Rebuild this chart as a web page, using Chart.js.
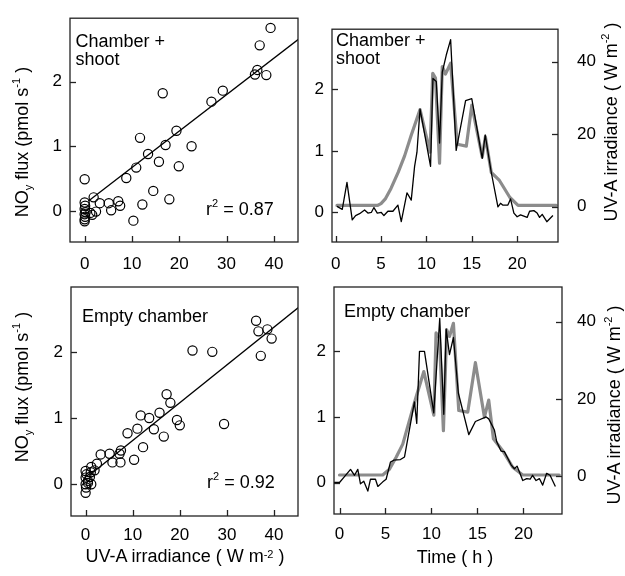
<!DOCTYPE html>
<html>
<head>
<meta charset="utf-8">
<script src="https://cdn.jsdelivr.net/npm/chart.js@4.4.0/dist/chart.umd.min.js"></script>
<style>
  body { margin: 0; background: #fff; }
  #wrap { position: relative; width: 625px; height: 576px; font-family: "Liberation Sans", Arial, sans-serif; color: #000; }
  canvas { position: absolute; left: 0; top: 0; }
  .txt { position: absolute; font-size: 18px; line-height: 18px; white-space: nowrap; z-index: 2; }
  .rot { transform: translate(-50%, -50%) rotate(-90deg); }
  .ctr { transform: translateX(-50%); }
  .sup { font-size: 11px; position: relative; top: -8px; }
  .sub { font-size: 11px; position: relative; top: 4px; }
</style>
</head>
<body>
<div id="wrap">
  <canvas id="tl" width="625" height="576"></canvas>
  <canvas id="tr" width="625" height="576"></canvas>
  <canvas id="bl" width="625" height="576"></canvas>
  <canvas id="br" width="625" height="576"></canvas>

  <div class="txt" style="left:75.5px; top:31.5px">Chamber +<br>shoot</div>
  <div class="txt" style="left:206px; top:200px">r<span class="sup">2</span> = 0.87</div>
  <div class="txt" style="left:336px; top:31px">Chamber +<br>shoot</div>
  <div class="txt" style="left:82px; top:306.5px">Empty chamber</div>
  <div class="txt" style="left:207px; top:473px">r<span class="sup">2</span> = 0.92</div>
  <div class="txt" style="left:344px; top:301.5px">Empty chamber</div>

  <div class="txt rot" style="left:23px; top:142px">NO<span class="sub">y</span> flux (pmol s<span class="sup">-1</span> )</div>
  <div class="txt rot" style="left:23px; top:387px">NO<span class="sub">y</span> flux (pmol s<span class="sup">-1</span> )</div>
  <div class="txt rot" style="left:612px; top:122px">UV-A irradiance ( W m<span class="sup">-2</span> )</div>
  <div class="txt rot" style="left:615px; top:405px">UV-A irradiance ( W m<span class="sup">-2</span> )</div>
  <div class="txt ctr" style="left:185px; top:547px">UV-A irradiance ( W m<span class="sup" style="top:-4px">-2</span> )</div>
  <div class="txt ctr" style="left:455px; top:548px">Time ( h )</div>
</div>

<script>
// ! scatter: chamber + shoot (UV-A vs NOy flux)
const shootUv = [0, 0, 0.1, 0, 0.2, 0, 0.1, 0, 0, 1.2, 1.6, 1.9, 2.4, 3.2, 5.1, 5.6, 7.1, 7.5, 8.8, 10.3, 10.9, 11.7, 12.2, 13.4, 14.5, 15.7, 16.5, 17.1, 17.9, 19.4, 19.9, 22.6, 26.8, 29.2, 36.0, 36.5, 37.0, 38.4, 39.3];
const shootFlux = [0.49, 0.13, 0.08, 0.03, -0.02, -0.05, -0.09, -0.13, -0.16, -0.03, -0.06, 0.21, -0.01, 0.12, 0.12, 0.01, 0.15, 0.08, 0.51, -0.15, 0.67, 1.13, 0.1, 0.88, 0.31, 0.76, 1.82, 1.02, 0.18, 1.24, 0.69, 1.0, 1.69, 1.86, 2.11, 2.18, 2.56, 2.1, 2.83];
const shootFit = { slope: 0.0563, intercept: 0.11, from: 0.8, to: 45.5 };

// ! scatter: empty chamber
const emptyUv = [0, 0.2, 0, 0.5, 0, 0.1, 0, 0.5, 0.9, 1.2, 1.1, 1.2, 1.9, 2.4, 3.2, 5.1, 5.7, 7.2, 7.5, 7.4, 8.9, 10.3, 11.0, 11.7, 12.2, 13.5, 14.5, 15.7, 16.6, 17.2, 18.0, 19.4, 20.0, 22.7, 26.9, 29.4, 36.2, 36.7, 37.2, 38.6, 39.5];
const emptyFlux = [0.2, 0.15, 0.1, 0.05, 0.0, -0.05, -0.13, 0.02, 0.11, 0.0, 0.18, 0.26, 0.21, 0.31, 0.45, 0.46, 0.33, 0.46, 0.51, 0.33, 0.77, 0.37, 0.84, 1.04, 0.56, 1.0, 0.83, 1.08, 0.72, 1.36, 1.23, 0.97, 0.89, 2.02, 2.0, 0.91, 2.47, 2.31, 1.94, 2.34, 2.2];
const emptyFit = { slope: 0.0571, intercept: 0.09, from: 0.8, to: 45.5 };

// ! time series: chamber + shoot
const shootTime = [0.15, 0.73, 1.25, 1.83, 2.2, 2.64, 3.19, 3.56, 3.93, 4.22, 4.59, 5.03, 5.32, 5.76, 6.31, 6.86, 7.23, 7.86, 8.33, 8.7, 8.96, 9.3, 10.46, 10.72, 11.09, 11.45, 11.75, 12.19, 12.67, 13.28, 14.32, 15.0, 16.15, 16.48, 17.15, 17.88, 18.17, 18.4, 18.98, 19.27, 19.64, 20.0, 20.37, 20.74, 21.1, 21.37, 21.84, 22.2, 22.47, 22.76, 23.27, 23.94];
const shootFluxT = [0.1, 0.05, 0.49, -0.12, -0.05, -0.02, 0.04, -0.01, 0.0, 0.08, -0.01, 0.0, -0.05, 0.02, 0.02, 0.12, -0.15, 0.32, 0.2, 0.75, 0.98, 1.68, 0.75, 2.18, 2.13, 1.13, 2.28, 2.56, 2.81, 1.01, 1.82, 1.85, 0.88, 1.26, 0.65, 0.09, 0.15, 0.12, 0.12, 0.22, -0.01, -0.07, -0.04, -0.06, -0.08, 0.02, 0.03, -0.01, -0.08, -0.03, -0.15, -0.05];
const shootUvTime = [0.15, 4.6, 5.0, 5.5, 6.1, 6.9, 7.6, 8.3, 9.3, 10.4, 10.7, 11.0, 11.45, 11.75, 12.1, 12.67, 13.4, 14.4, 15.0, 16.15, 16.5, 17.15, 18.05, 19.2, 20.1, 24.3];
const shootUvT = [0.3, 0.3, 0.8, 2.2, 5, 9.5, 14, 19.5, 26.8, 15, 36.8, 35.5, 12, 38.7, 36.6, 39.6, 17.2, 16.7, 28, 13.7, 19.3, 9.4, 7.2, 2.5, 0.3, 0.3];

// ! time series: empty chamber
const emptyTime = [-0.6, 0, 0.54, 1.2, 1.63, 1.99, 2.28, 2.64, 3.08, 3.37, 3.91, 4.17, 4.71, 5.07, 5.54, 5.9, 6.63, 7.07, 7.79, 8.15, 8.4, 8.7, 9.24, 10.25, 10.9, 11.34, 11.6, 11.96, 12.39, 12.93, 14.06, 14.78, 15.95, 16.23, 16.85, 17.1, 17.57, 17.93, 18.3, 18.66, 19.02, 19.31, 19.57, 19.93, 20.36, 20.73, 21.0, 21.38, 21.74, 22.1, 22.53, 22.9, 23.48];
const emptyFluxT = [0, 0, 0.09, 0.2, 0.11, 0.2, -0.02, 0.02, -0.13, 0.05, 0.05, -0.06, 0.01, 0.05, 0.31, 0.34, 0.35, 0.39, 0.95, 1.23, 0.9, 2.0, 2.0, 1.06, 2.5, 1.04, 2.34, 1.95, 2.21, 1.36, 0.73, 0.93, 1.0, 0.97, 0.8, 0.62, 0.48, 0.47, 0.37, 0.27, 0.21, 0.25, 0.16, 0.03, 0.06, 0.05, 0.11, 0.03, 0.06, -0.04, 0.14, 0.11, -0.06];
const emptyUvTime = [0, 4.7, 5.43, 6.16, 6.88, 7.6, 8.33, 9.17, 10.26, 10.5, 10.87, 11.3, 11.66, 11.96, 12.39, 12.97, 13.95, 14.78, 15.76, 16.23, 16.74, 17.75, 18.84, 19.93, 23.9];
const emptyUvT = [0.3, 0.3, 1.8, 4.9, 8.3, 14.4, 20.5, 27.1, 15.8, 37.1, 35.8, 11.8, 37.9, 36.2, 39.6, 17, 16.6, 29.4, 15.3, 19.7, 9.7, 6.6, 2.3, 0.3, 0.3];

// tick labels
const fluxTicks = [0, 1, 2];
const uvAxisTicks = [0, 10, 20, 30, 40];
const uvRightTicks = [0, 20, 40];
const timeTicks = [0, 5, 10, 15, 20];

Chart.defaults.font.family = "'Liberation Sans', Arial, sans-serif";
Chart.defaults.font.size = 17;
Chart.defaults.color = "#000";

const W = 625;
const H = 576;

function points(xs, ys) {
  return xs.map((x, i) => ({ x: x, y: ys[i] }));
}

function fitLine(f) {
  return [
    { x: f.from, y: f.intercept + f.slope * f.from },
    { x: f.to, y: f.intercept + f.slope * f.to },
  ];
}

// ! box round the plot and inward tick marks like R
const boxPlugin = {
  id: "box",
  afterDatasetsDraw(chart) {
    const { ctx, chartArea: a } = chart;
    ctx.save();
    ctx.strokeStyle = "#222";
    ctx.lineWidth = 1.3;
    ctx.strokeRect(a.left, a.top, a.right - a.left, a.bottom - a.top);
    Object.values(chart.scales).forEach((s) => {
      s.ticks.forEach((t) => {
        const p = Math.round(s.getPixelForValue(t.value)) + 0.5;
        ctx.beginPath();
        if (s.axis === "x") {
          ctx.moveTo(p, a.bottom);
          ctx.lineTo(p, a.bottom - 6);
        } else if (s.position === "left") {
          ctx.moveTo(a.left, p);
          ctx.lineTo(a.left + 6, p);
        } else {
          ctx.moveTo(a.right, p);
          ctx.lineTo(a.right - 6, p);
        }
        ctx.stroke();
      });
    });
    ctx.restore();
  },
};

function axis(pos, min, max, ticks, size, pad) {
  return {
    type: "linear",
    position: pos,
    min: min,
    max: max,
    grid: { display: false, drawTicks: false },
    border: { display: false },
    ticks: { padding: pad, autoSkip: false },
    afterBuildTicks: (s) => {
      s.ticks = ticks.map((v) => ({ value: v }));
    },
    afterFit: (s) => {
      if (pos === "bottom") s.height = size;
      else s.width = size;
    },
  };
}

// box = [left, top, right, bottom] of the plot area in page pixels
function scatterPanel(id, box, xs, ys, fit, xPad) {
  return new Chart(document.getElementById(id), {
    type: "scatter",
    data: {
      datasets: [
        {
          data: points(xs, ys),
          pointStyle: "circle",
          pointRadius: 4.6,
          pointBorderWidth: 1.2,
          pointBorderColor: "#000",
          pointBackgroundColor: "rgba(0,0,0,0)",
        },
        {
          data: fitLine(fit),
          showLine: true,
          borderColor: "#000",
          borderWidth: 1.3,
          pointRadius: 0,
        },
      ],
    },
    options: {
      responsive: false,
      animation: false,
      devicePixelRatio: 1,
      events: [],
      layout: { padding: { left: box[0] - 40, top: box[1], right: W - box[2], bottom: H - box[3] - 40 } },
      plugins: { legend: { display: false }, tooltip: { enabled: false } },
      scales: {
        x: axis("bottom", -3.1, 45.1, uvAxisTicks, 40, xPad),
        y: axis("left", -0.48, 2.98, fluxTicks, 40, 8),
      },
    },
    plugins: [boxPlugin],
  });
}

function timePanel(id, box, xMin, xMax, tFlux, flux, tUv, uv, xPad, rightPad) {
  return new Chart(document.getElementById(id), {
    type: "scatter",
    data: {
      datasets: [
        {
          data: points(tFlux, flux),
          showLine: true,
          borderColor: "#000",
          borderWidth: 1.3,
          borderJoinStyle: "round",
          pointRadius: 0,
          yAxisID: "y",
        },
        {
          data: points(tUv, uv),
          showLine: true,
          borderColor: "#8c8c8c",
          borderWidth: 3.2,
          borderJoinStyle: "round",
          borderCapStyle: "round",
          pointRadius: 0,
          yAxisID: "y2",
        },
      ],
    },
    options: {
      responsive: false,
      animation: false,
      devicePixelRatio: 1,
      events: [],
      layout: { padding: { left: box[0] - 40, top: box[1], right: W - box[2] - 40, bottom: H - box[3] - 40 } },
      plugins: { legend: { display: false }, tooltip: { enabled: false } },
      scales: {
        x: axis("bottom", xMin, xMax, timeTicks, 40, xPad),
        y: axis("left", -0.48, 2.98, fluxTicks, 40, 8),
        y2: axis("right", -9.8, 49, uvRightTicks, 40, rightPad),
      },
    },
    plugins: [boxPlugin],
  });
}

scatterPanel("tl", [70, 15, 298, 242], shootUv, shootFlux, shootFit, 12);
scatterPanel("bl", [71, 287, 298, 516], emptyUv, emptyFlux, emptyFit, 9);
timePanel("tr", [332, 15, 558, 242], -0.4, 24.5, shootTime, shootFluxT, shootUvTime, shootUvT, 12, 19);
timePanel("br", [334, 287, 562, 514], -0.6, 24.2, emptyTime, emptyFluxT, emptyUvTime, emptyUvT, 10, 15);
</script>
</body>
</html>
